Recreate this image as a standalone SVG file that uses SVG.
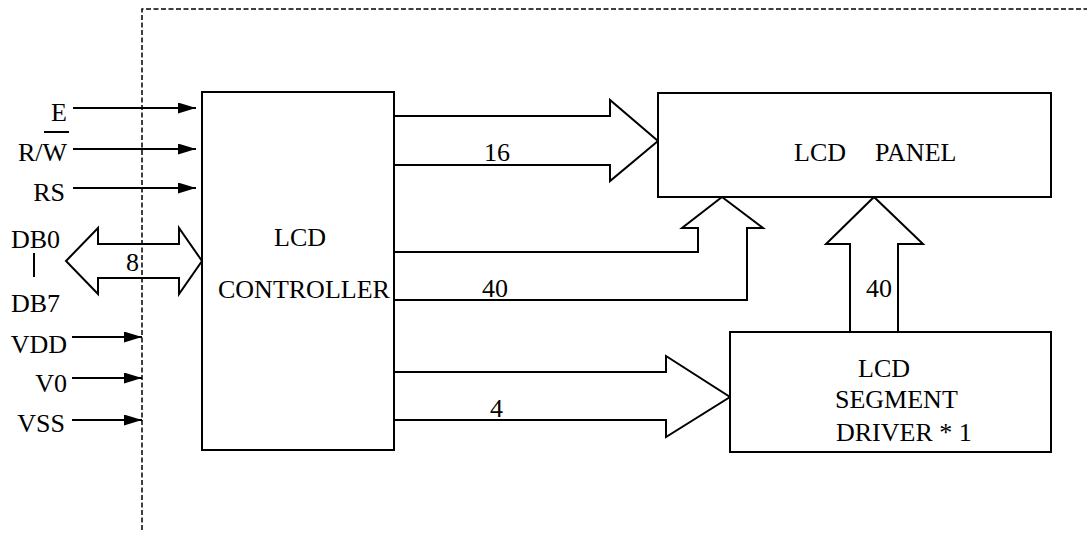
<svg xmlns="http://www.w3.org/2000/svg" width="1087" height="535" viewBox="0 0 1087 535">
<style>
.t{font-family:'Times New Roman',serif;font-size:26px;fill:#000}
.ln{stroke:#000;stroke-width:2;fill:none}
.box{stroke:#000;stroke-width:2;fill:#fff}
.bus{stroke:#000;stroke-width:2;fill:none;stroke-linejoin:miter}
.dash{stroke:#000;stroke-width:1.5;fill:none;stroke-dasharray:5,2.5}
</style>
<defs>
<marker id="ah" markerWidth="18" markerHeight="11" refX="18" refY="5.5" orient="auto" markerUnits="userSpaceOnUse">
<path d="M0,0 L18,5.5 L0,11 Z" fill="#000"/>
</marker>
</defs>
<rect width="1087" height="535" fill="#fff"/>
<g id="boundary">
<path class="dash" d="M142,530 L142,9 L1087,9"/>
</g>
<g id="connectors">
<line class="ln" x1="73" y1="108" x2="196" y2="108" marker-end="url(#ah)"/>
<line class="ln" x1="73" y1="149" x2="196" y2="149" marker-end="url(#ah)"/>
<line class="ln" x1="73" y1="188" x2="196" y2="188" marker-end="url(#ah)"/>
<line class="ln" x1="72" y1="337" x2="142" y2="337" marker-end="url(#ah)"/>
<line class="ln" x1="72" y1="378" x2="142" y2="378" marker-end="url(#ah)"/>
<line class="ln" x1="72" y1="420" x2="142" y2="420" marker-end="url(#ah)"/>
<path class="bus" d="M66,261 L98,228 L98,244 L179,244 L179,228 L202,261 L179,294 L179,278 L98,278 L98,294 Z"/>
<path class="bus" d="M394,116 L610,116 L610,100 L658,141 L610,181 L610,165 L394,165"/>
<path class="bus" d="M394,252 L698,252 L698,228 L682,228 L722,197 L763,228 L747,228 L747,300 L394,300"/>
<path class="bus" d="M850,332 L850,244 L826,244 L874,197 L923,244 L898,244 L898,332"/>
<path class="bus" d="M394,372 L666,372 L666,356 L730,397 L666,437 L666,420 L394,420"/>
<line class="ln" x1="44" y1="132" x2="69" y2="132"/>
<line class="ln" x1="34" y1="253" x2="34" y2="277"/>
<text class="t" x="484" y="161">16</text>
<text class="t" x="482" y="297">40</text>
<text class="t" x="866" y="297">40</text>
<text class="t" x="490" y="417">4</text>
<text class="t" x="126" y="271">8</text>
</g>
<g id="labels">
<text class="t" x="67" y="121" text-anchor="end">E</text>
<text class="t" x="67" y="161" text-anchor="end">R/W</text>
<text class="t" x="65" y="201" text-anchor="end">RS</text>
<text class="t" x="11" y="248">DB0</text>
<text class="t" x="11" y="312">DB7</text>
<text class="t" x="67" y="353" text-anchor="end">VDD</text>
<text class="t" x="67" y="392" text-anchor="end">V0</text>
<text class="t" x="65" y="432" text-anchor="end">VSS</text>
</g>
<g id="controller">
<rect class="box" x="202" y="92" width="192" height="358"/>
<text class="t" x="274" y="246">LCD</text>
<text class="t" x="218" y="298">CONTROLLER</text>
</g>
<g id="panel">
<rect class="box" x="658" y="93" width="393" height="104"/>
<text class="t" x="794" y="161">LCD</text>
<text class="t" x="875" y="161">PANEL</text>
</g>
<g id="driver">
<rect class="box" x="730" y="332" width="321" height="120"/>
<text class="t" x="858" y="377">LCD</text>
<text class="t" x="835" y="408">SEGMENT</text>
<text class="t" x="836" y="441">DRIVER * 1</text>
</g>
</svg>
